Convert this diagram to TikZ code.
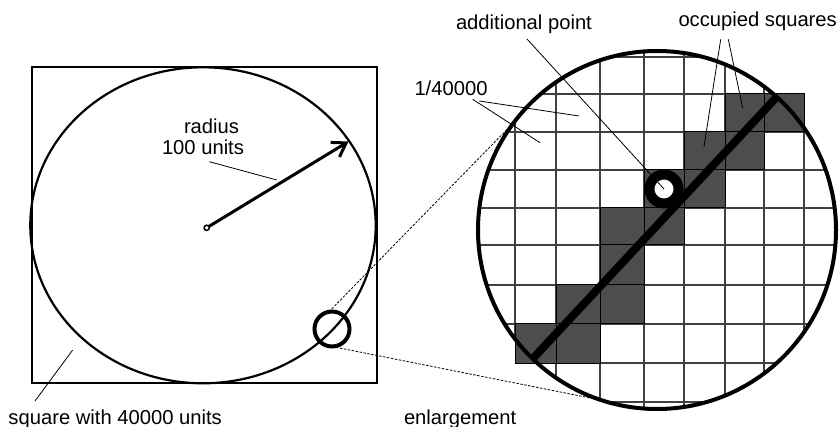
\documentclass[tikz,border=0pt]{standalone}
\usepackage{fontspec}
\setmainfont{Liberation Sans}
\usetikzlibrary{arrows.meta}
\definecolor{occ}{RGB}{77,77,77}
\definecolor{gridc}{RGB}{64,64,64}
\begin{document}
\begin{tikzpicture}[x=1pt,y=-1pt,
  lbl/.style={anchor=base west, inner sep=0pt, outer sep=0pt, font=\fontsize{20.2}{24}\selectfont},
  leader/.style={line width=0.8pt},
  enl/.style={line width=0.8pt, dash pattern=on 2.5pt off 1.5pt},
  occcell/.style={fill=occ, draw=black, line width=1pt},
  gridline/.style={draw=gridc, line width=1.2pt},
]
\useasboundingbox (0,0) rectangle (840,427);

% ---------- left part ----------
\draw[line width=2.5pt] (32,67) rectangle (377,383);
\draw[line width=2.2pt] (203,225.3) ellipse [x radius=172.7, y radius=158];
\coordinate (ctr) at (206.7,227.8);
\coordinate (rim) at (348.5,141.5);
\draw[line width=3pt, -{Straight Barb[length=13pt,width=17pt]}] (ctr) -- (rim);
\draw[line width=1.5pt, fill=white] (ctr) circle (2.6);
\node[circle, draw, line width=4pt, minimum size=35pt, inner sep=0pt, outer sep=0pt] (zoomc) at (332,329) {};

% ---------- enlargement ----------
\begin{scope}
  \clip (657,230) circle (179);
  \foreach \gx in {515,556,600,644,684,725,764,804}
    \draw[gridline] (\gx,40) -- (\gx,420);
  \foreach \gy in {57,94,132,170,208,245,285,324,363,402}
    \draw[gridline] (470,\gy) -- (845,\gy);
\end{scope}
\foreach \xa/\xb/\ya/\yb in {725/764/94/132, 764/804/94/132, 684/725/132/170, 725/764/132/170,
  644/684/170/208, 684/725/170/208, 600/644/208/245, 644/684/208/245, 600/644/245/285,
  556/600/285/324, 600/644/285/324, 515/556/324/363, 556/600/324/363}
  \draw[occcell] (\xa,\ya) rectangle (\xb,\yb);

\node[circle, draw, line width=4pt, minimum size=358pt, inner sep=0pt, outer sep=0pt] (big) at (657,230) {};
\draw[line width=8pt] (big.226) -- (big.48);
\node[circle, draw, line width=10pt, fill=white, minimum size=29pt, inner sep=0pt, outer sep=0pt] (pt) at (664,189) {};

% enlargement lines
\draw[enl] (zoomc.100) -- (big.143);
\draw[enl] (zoomc.south) -- (big.252);

% ---------- labels ----------
\node[lbl] (tadd) at (456,30) {additional point};
\node[lbl] (tocc) at (678.5,26.7) {occupied squares};
\node[lbl] (tfrac) at (414.5,96) {1/40000};
\node[lbl] (trad1) at (184,133.3) {radius};
\node[lbl] (trad2) at (162,155) {100 units};
\node[lbl] (tsq) at (8.5,424) {square with 40000 units};
\node[lbl] (tenl) at (404,424) {enlargement};

% leaders
\coordinate (lAdd) at (527,39);
\draw[leader] (lAdd) -- (pt.center);
\coordinate (lOccA) at (720.7,39.3);
\coordinate (eOccA) at (704,146.7);
\coordinate (lOccB) at (728.3,39.3);
\coordinate (eOccB) at (742.7,108.3);
\draw[leader] (lOccA) -- (eOccA);
\draw[leader] (lOccB) -- (eOccB);
\coordinate (lFrA) at (472.7,99.3);
\coordinate (eFrA) at (540,142.7);
\coordinate (lFrB) at (479.3,101);
\coordinate (eFrB) at (579,116);
\draw[leader] (lFrA) -- (eFrA);
\draw[leader] (lFrB) -- (eFrB);
\coordinate (lRad) at (209.3,161.7);
\coordinate (eRad) at (276.7,180);
\draw[leader] (lRad) -- (eRad);
\coordinate (lSq) at (35,401);
\coordinate (eSq) at (72.7,350);
\draw[leader] (lSq) -- (eSq);
\end{tikzpicture}
\end{document}
